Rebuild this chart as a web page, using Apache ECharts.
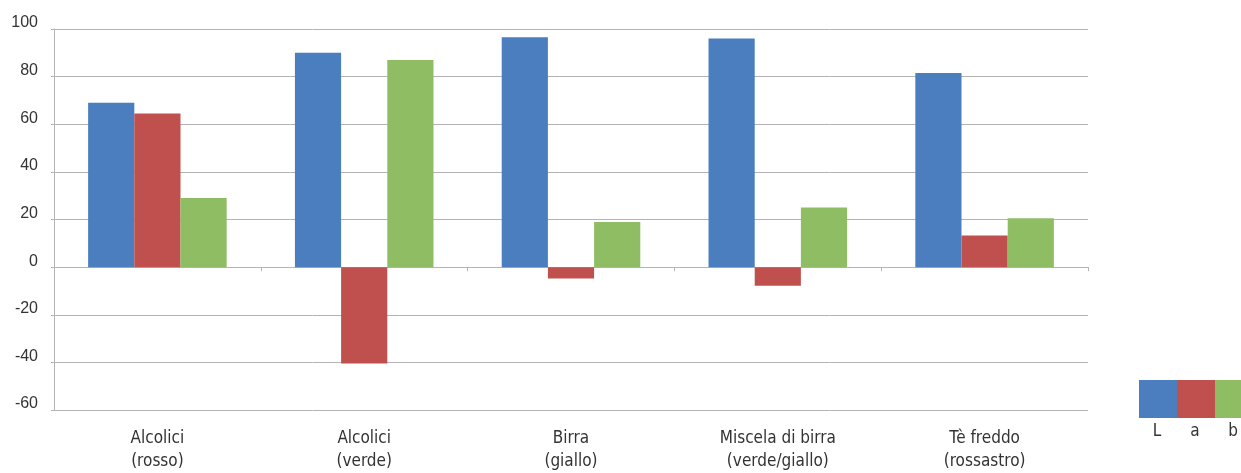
<!DOCTYPE html>
<html>
<head>
<meta charset="utf-8">
<script src="https://cdn.jsdelivr.net/npm/echarts@6/dist/echarts.min.js"></script>
<style>
  html, body { margin: 0; padding: 0; background: #ffffff; }
  #chart { width: 1241px; height: 473px; }
</style>
</head>
<body>
<div id="chart"></div>
<script>
// Colour coordinates (L*, a*, b*) for each beverage
const categories = [
  'Alcolici\n(rosso)',
  'Alcolici\n(verde)',
  'Birra\n(giallo)',
  'Miscela di birra\n(verde/giallo)',
  'Tè freddo\n(rossastro)'
];
const seriesNames = ['L', 'a', 'b'];
const valuesL = [69, 90, 96.5, 96, 81.5];
const valuesA = [64.5, -40.5, -4.8, -7.8, 13.3];
const valuesB = [29, 87, 19, 25, 20.5];
const yTicks = { min: -60, max: 100, interval: 20 };

const colors = ['#4a7ebf', '#c0504d', '#8fbd64'];
const narrow = '"Liberation Sans Narrow", "DejaVu Sans Condensed", sans-serif';
const gridLine = '#b4b4b4';

const chart = echarts.init(document.getElementById('chart'), null, { renderer: 'canvas' });

const dataSets = [valuesL, valuesA, valuesB];
const series = seriesNames.map((name, i) => ({
  name: name,
  type: 'bar',
  xAxisIndex: 0,
  data: dataSets[i],
  barGap: '0%',
  barCategoryGap: '33%',
  itemStyle: { color: colors[i] },
  animation: false
}));

// Legend swatches with their letters underneath
const legendX = 1139, legendY = 380, sw = 38, sh = 38;
const legendGraphics = [];
seriesNames.forEach((name, i) => {
  legendGraphics.push({
    type: 'rect',
    left: legendX + i * sw,
    top: legendY,
    shape: { width: sw, height: sh },
    style: { fill: colors[i] }
  });
  legendGraphics.push({
    type: 'text',
    x: legendX + i * sw + sw / 2 - 1,
    y: legendY + sh + 14,
    style: {
      text: name,
      fill: '#333333',
      font: '17px ' + narrow,
      textAlign: 'center',
      textVerticalAlign: 'middle'
    }
  });
});

chart.setOption({
  animation: false,
  grid: { left: 54, right: 153, top: 29, bottom: 59, containLabel: false },
  xAxis: [
    {
      type: 'category',
      data: categories,
      axisLine: { onZero: true, lineStyle: { color: gridLine, width: 1 } },
      axisTick: { show: true, length: 4, lineStyle: { color: gridLine } },
      axisLabel: { show: false }
    },
    {
      type: 'category',
      data: categories,
      position: 'bottom',
      axisLine: { show: false },
      axisTick: { show: false },
      axisLabel: {
        show: true,
        margin: 17,
        color: '#333333',
        fontFamily: narrow,
        fontSize: 17,
        lineHeight: 23
      }
    }
  ],
  yAxis: {
    type: 'value',
    min: yTicks.min,
    max: yTicks.max,
    interval: yTicks.interval,
    axisLine: { show: true, lineStyle: { color: gridLine, width: 1 } },
    axisTick: { show: true, length: 3, lineStyle: { color: gridLine } },
    splitLine: { show: true, lineStyle: { color: gridLine, width: 1 } },
    axisLabel: {
      margin: 16,
      color: '#333333',
      fontFamily: '"Liberation Sans", Arial, sans-serif',
      fontSize: 16,
      verticalAlign: 'bottom',
      lineHeight: 12
    }
  },
  series: series,
  graphic: legendGraphics
});
</script>
</body>
</html>
